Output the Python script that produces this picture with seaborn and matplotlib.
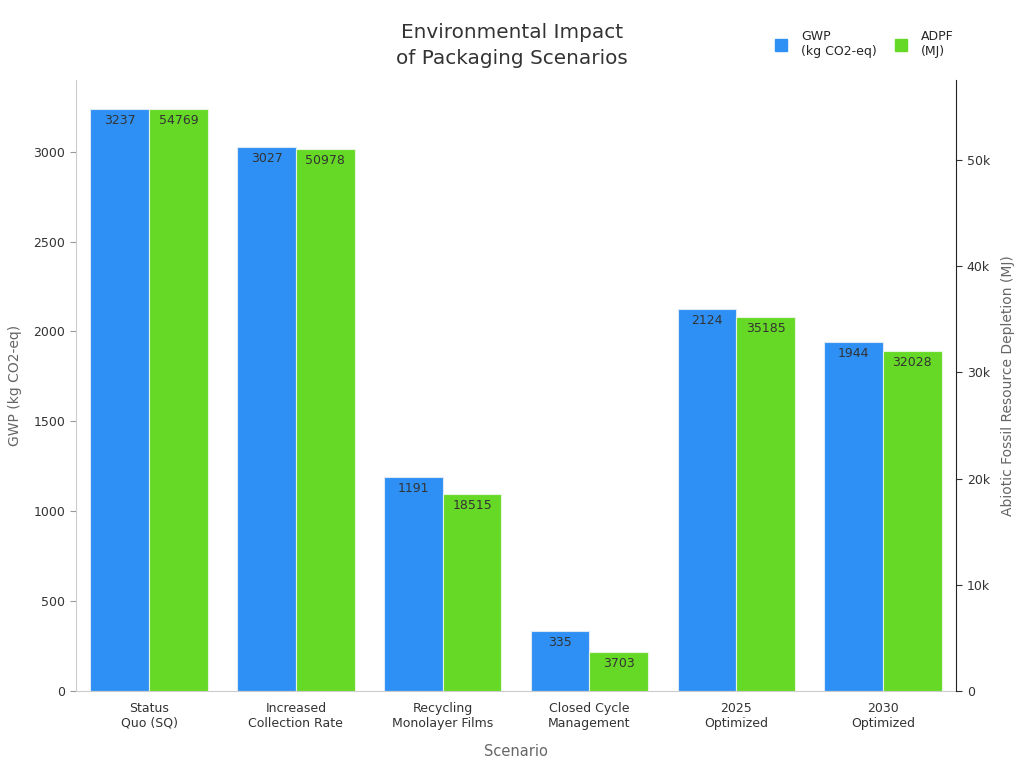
import pandas as pd
import matplotlib
matplotlib.use("Agg")
import matplotlib.pyplot as plt
import matplotlib.ticker as mticker
from matplotlib.lines import Line2D
import seaborn as sns

# Data
scenarios = ["Status\nQuo (SQ)", "Increased\nCollection Rate", "Recycling\nMonolayer Films",
             "Closed Cycle\nManagement", "2025\nOptimized", "2030\nOptimized"]
gwp = [3237, 3027, 1191, 335, 2124, 1944]
adpf = [54769, 50978, 18515, 3703, 35185, 32028]

blue = "#2E90F5"
green = "#66D926"

sns.set_style("white")
plt.rcParams['font.family'] = ['DejaVu Sans']

# long table; the other metric is set to 0 on each axis so the bars still dodge side by side
df_gwp = pd.DataFrame({"Scenario": scenarios, "value": gwp, "metric": "GWP"})
df_adpf = pd.DataFrame({"Scenario": scenarios, "value": adpf, "metric": "ADPF"})
df_left = pd.concat([df_gwp, df_adpf.assign(value=0)])
df_right = pd.concat([df_gwp.assign(value=0), df_adpf])

fig, ax1 = plt.subplots(figsize=(10.24, 7.68), dpi=100)
fig.subplots_adjust(left=0.074, right=0.934, top=0.896, bottom=0.1)
ax2 = ax1.twinx()

sns.barplot(data=df_left, x="Scenario", y="value", hue="metric", hue_order=["GWP", "ADPF"],
            palette=[blue, green], saturation=1, width=0.8, ax=ax1, legend=False,
            edgecolor="#dde8f5", linewidth=0.8)
sns.barplot(data=df_right, x="Scenario", y="value", hue="metric", hue_order=["GWP", "ADPF"],
            palette=[blue, green], saturation=1, width=0.8, ax=ax2, legend=False,
            edgecolor="#e6f5dd", linewidth=0.8)

# hide the empty placeholder bars
for p in ax1.containers[1]:
    p.set_visible(False)
for p in ax2.containers[0]:
    p.set_visible(False)

ax1.set_ylim(0, max(gwp) * 1.05)
ax2.set_ylim(0, max(adpf) * 1.05)
ax1.set_xlim(-0.5, len(scenarios) - 0.5)

# value labels inside bar tops
ax1.bar_label(ax1.containers[0], labels=[f"{v}" for v in gwp], padding=-13, fontsize=9, color="#333333")
ax2.bar_label(ax2.containers[1], labels=[f"{v}" for v in adpf], padding=-13, fontsize=9, color="#333333")

ax1.set_xlabel("Scenario", fontsize=10.5, color="#666666", labelpad=10)
ax1.set_ylabel("GWP (kg CO2-eq)", fontsize=10, color="#666666", labelpad=8)
ax2.set_ylabel("Abiotic Fossil Resource Depletion (MJ)", fontsize=10, color="#666666", labelpad=8)

ax2.yaxis.set_major_formatter(mticker.FuncFormatter(lambda v, p: "0" if v == 0 else f"{v/1000:.0f}k"))

for ax in (ax1, ax2):
    ax.tick_params(axis="both", labelsize=9, colors="#333333", length=4)
    ax.spines["top"].set_visible(False)
ax1.tick_params(axis="y", color="#999999")
ax1.tick_params(axis="x", color="#999999")
ax1.spines["left"].set_color("#cccccc")
ax1.spines["bottom"].set_color("#cccccc")
ax1.spines["right"].set_visible(False)
ax2.spines["left"].set_visible(False)
ax2.spines["bottom"].set_visible(False)
ax2.spines["right"].set_color("#222222")

fig.suptitle("Environmental Impact\nof Packaging Scenarios", fontsize=14.4, color="#333333",
             x=0.5, y=0.97, linespacing=1.45)

handles = [Line2D([], [], marker="s", linestyle="", markersize=9, color=blue),
           Line2D([], [], marker="s", linestyle="", markersize=9, color=green)]
fig.legend(handles, ["GWP\n(kg CO2-eq)", "ADPF\n(MJ)"], loc="upper right", bbox_to_anchor=(0.942, 0.975),
           ncol=2, frameon=False, fontsize=9, handletextpad=0.6, columnspacing=0.9)

fig.savefig("out.png", dpi=100)
